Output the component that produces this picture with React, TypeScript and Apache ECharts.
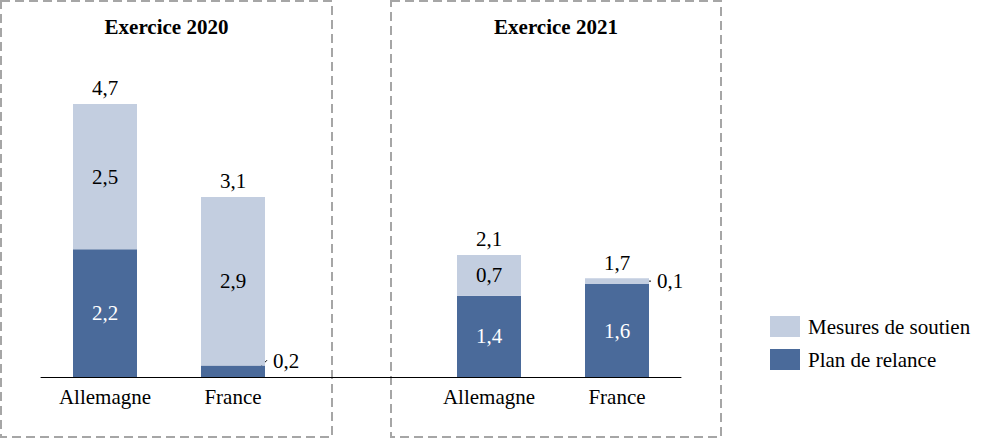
import React, { useEffect, useRef } from "react";
import * as echarts from "echarts";

const categories = ["Allemagne", "France", "", "Allemagne", "France"];
const planRelance: (number | null)[] = [2.2, 0.2, null, 1.4, 1.6];
const mesuresSoutien: (number | null)[] = [2.5, 2.9, null, 0.7, 0.1];
const panelTitles = ["Exercice 2020", "Exercice 2021"];
const seriesNames = ["Mesures de soutien", "Plan de relance"];

const FONT = '"Liberation Serif", serif';
const FS = 21;
const DARK = "#4a6a9a";
const LIGHT = "#c3cee0";
const fmt = (v: number) => v.toFixed(1).replace(".", ",");
const SMALL = 0.3;

export default function App() {
  const ref = useRef<HTMLDivElement>(null);
  useEffect(() => {
    if (!ref.current) return;
    const chart = echarts.init(ref.current, null, { renderer: "svg" });
    const totals = planRelance.map((p, i) =>
      p == null || mesuresSoutien[i] == null ? null : Math.round((p + (mesuresSoutien[i] as number)) * 10) / 10
    );
    const mkData = (arr: (number | null)[], dark: boolean) =>
      arr.map((v) => {
        if (v == null) return "-";
        if (v < SMALL) {
          return {
            value: v,
            label: {
              show: true,
              position: "right",
              distance: 8,
              offset: dark ? [0, -10] : [0, 0],
              color: "#000",
            },
          };
        }
        return { value: v };
      });
    chart.setOption({
      animation: false,
      textStyle: { fontFamily: FONT },
      grid: { left: 41, width: 640, top: 86.5, height: 290.5, containLabel: false },
      legend: {
        data: seriesNames,
        orient: "vertical",
        left: 765,
        top: 311,
        itemWidth: 30,
        itemHeight: 21,
        itemGap: 12,
        icon: "rect",
        textStyle: { fontFamily: FONT, fontSize: FS, color: "#000", padding: [0, 0, 0, 3] },
        selectedMode: false,
      },
      xAxis: {
        type: "category",
        data: categories,
        axisLine: { show: true, lineStyle: { color: "#000", width: 1 } },
        axisTick: { show: false },
        axisLabel: { color: "#000", fontSize: FS, fontFamily: FONT, margin: 9 },
      },
      yAxis: { type: "value", min: 0, max: 5, show: false, splitLine: { show: false } },
      series: [
        {
          name: seriesNames[1],
          type: "bar",
          stack: "s",
          barWidth: "50%",
          itemStyle: { color: DARK },
          label: { show: true, position: "inside", color: "#fff", fontSize: FS, fontFamily: FONT, formatter: (p: any) => fmt(p.value) },
          data: mkData(planRelance, true),
        },
        {
          name: seriesNames[0],
          type: "bar",
          stack: "s",
          barWidth: "50%",
          itemStyle: { color: LIGHT },
          label: { show: true, position: "inside", color: "#000", fontSize: FS, fontFamily: FONT, formatter: (p: any) => fmt(p.value) },
          data: mkData(mesuresSoutien, false),
        },
        {
          name: "Total",
          type: "scatter",
          symbolSize: 0,
          silent: true,
          itemStyle: { color: "#000", opacity: 1 },
          label: { show: true, position: "top", distance: 5, color: "#000", fontSize: FS, fontFamily: FONT, formatter: (p: any) => fmt(p.value[1]) },
          data: totals.map((t, i) => (t == null ? [i, "-"] : [i, t])),
        },
      ],
    });

    const elements: any[] = [];
    const boxes = [
      { x: 1, y: 1, w: 331, h: 436 },
      { x: 391, y: 1, w: 330, h: 436 },
    ];
    boxes.forEach((b, i) => {
      elements.push({
        type: "rect",
        shape: { x: b.x, y: b.y, width: b.w, height: b.h },
        style: { fill: "none", stroke: "#a6a6a6", lineWidth: 2, lineDash: [9, 5] },
        silent: true,
      });
      elements.push({
        type: "text",
        x: b.x + b.w / 2,
        y: 27,
        style: { text: panelTitles[i], fill: "#000", font: `bold 21px "Liberation Serif", serif`, align: "center", verticalAlign: "middle" },
      });
    });
    const halfW = 32;
    planRelance.forEach((v, i) => {
      if (v != null && v < SMALL) {
        const [cx, cy] = chart.convertToPixel({ gridIndex: 0 }, [i, v / 2]) as number[];
        const r = cx + halfW;
        elements.push({ type: "line", shape: { x1: r - 9, y1: cy, x2: r + 2, y2: cy - 11 }, style: { stroke: "#000", lineWidth: 1 } });
      }
    });
    mesuresSoutien.forEach((v, i) => {
      const p = planRelance[i];
      if (v != null && p != null && v < SMALL) {
        const [cx, cy] = chart.convertToPixel({ gridIndex: 0 }, [i, p + v / 2]) as number[];
        const r = cx + halfW;
        elements.push({ type: "line", shape: { x1: r - 7, y1: cy, x2: r + 2, y2: cy }, style: { stroke: "#000", lineWidth: 1 } });
      }
    });
    chart.setOption({ graphic: { elements } });
    return () => chart.dispose();
  }, []);
  return <div ref={ref} style={{ position: "absolute", left: 0, top: 0, width: 996, height: 439 }} />;
}
